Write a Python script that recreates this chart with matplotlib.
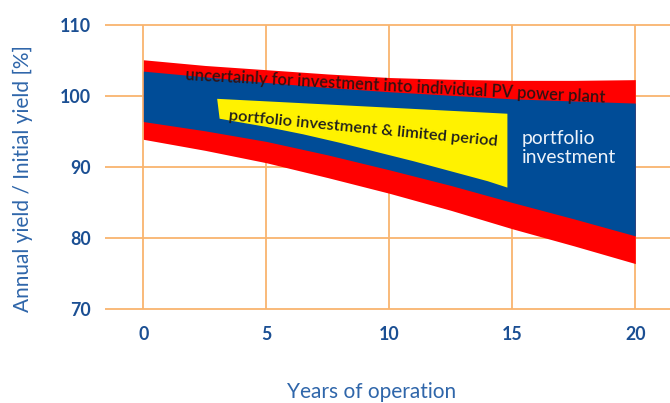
import matplotlib
matplotlib.use('Agg')
import matplotlib.pyplot as plt

plt.rcParams['font.family'] = ['Lato', 'DejaVu Sans']

# Band edges (years of operation -> % of initial yield)
years = [0, 2.5, 5, 7.5, 10, 12.5, 15, 17.5, 20]
red_top = [105.1, 104.3, 103.7, 103.1, 102.6, 102.35, 102.2, 102.2, 102.3]
blue_top = [103.5, 102.7, 101.9, 101.2, 100.6, 100.1, 99.6, 99.3, 99.0]
blue_bottom = [96.4, 95.1, 93.6, 91.7, 89.6, 87.4, 85.0, 82.7, 80.3]
red_bottom = [93.9, 92.35, 90.6, 88.5, 86.3, 83.9, 81.3, 78.9, 76.4]

# yellow wedge (portfolio + limited period): straight top edge, curved bottom
yellow_top_years = [3.0, 14.8]
yellow_top = [99.6, 97.5]
yellow_bottom_years = [3.1, 4, 5, 6.5, 8, 9.5, 11, 12.5, 14, 14.8]
yellow_bottom = [96.8, 96.25, 95.65, 94.6, 93.4, 92.1, 90.8, 89.4, 88.0, 87.1]

x_ticks = [0, 5, 10, 15, 20]
y_ticks = [70, 80, 90, 100, 110]

red = '#ff0000'
blue = '#004c97'
yellow = '#fff200'
grid_c = '#f9b46e'
tick_c = '#1b4f93'
label_c = '#2f66aa'

fig = plt.figure(figsize=(6.7, 4.03), dpi=100)
ax = fig.add_axes([105 / 670, 1 - 314 / 403, 565 / 670, 294 / 403])
ax.set_xlim(-1.56, 21.41)
ax.set_ylim(69.3, 110.7)

# grid drawn by hand: horizontals run full width, verticals stop at 70/110
ax.hlines(y_ticks, -1.56, 21.41, color=grid_c, lw=1.3, zorder=0)
ax.vlines(x_ticks, 70, 110, color=grid_c, lw=1.3, zorder=0)

ax.fill_between(years, red_bottom, red_top, color=red, lw=0, zorder=1)
ax.fill_between(years, blue_bottom, blue_top, color=blue, lw=0, zorder=2)
ax.fill(yellow_top_years + yellow_bottom_years[::-1],
        yellow_top + yellow_bottom[::-1], color=yellow, lw=0, zorder=3)

ax.text(10.23, 101.4, 'uncertainly for investment into individual PV power plant',
        rotation=-3.1, rotation_mode='anchor', ha='center', va='center',
        fontsize=11.9, fontweight='semibold', color='#331212', zorder=4)
ax.text(8.93, 95.3, 'portfolio investment & limited period',
        rotation=-5.5, rotation_mode='anchor', ha='center', va='center',
        fontsize=11.8, fontweight='semibold', color='#1e1e1e', zorder=4)
ax.text(15.38, 92.7, 'portfolio\ninvestment', ha='left', va='center',
        fontsize=13.9, color='#eef3fa', linespacing=1.1, zorder=4)

ax.set_xticks(x_ticks)
ax.set_yticks(y_ticks)
ax.tick_params(length=0, colors=tick_c, labelsize=12.8)
ax.tick_params(axis='y', pad=10)
ax.tick_params(axis='x', pad=9)
for lbl in ax.get_xticklabels() + ax.get_yticklabels():
    lbl.set_fontweight('bold')

for s in ax.spines.values():
    s.set_visible(False)

ax.set_xlabel('Years of operation', fontsize=15, color=label_c)
ax.set_ylabel('Annual yield / Initial yield [%]', fontsize=15, color=label_c)
ax.xaxis.label.set_va('center')
ax.yaxis.label.set_va('center')
ax.xaxis.set_label_coords((372 - 105) / 565, (314 - 392) / 294)
ax.yaxis.set_label_coords((23 - 105) / 565, (314 - 179) / 294)

fig.savefig('out.png', dpi=100)
